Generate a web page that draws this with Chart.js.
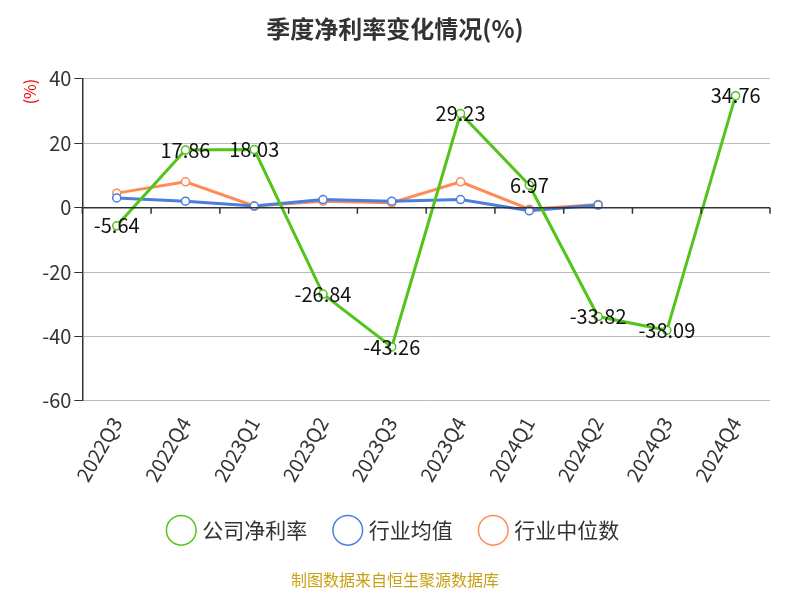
<!DOCTYPE html><html><head><meta charset="utf-8">
<script src="https://cdn.jsdelivr.net/npm/chart.js@4/dist/chart.umd.min.js"></script>
<style>body{margin:0;background:#fff}#w{width:800px;height:600px;position:relative}</style></head><body>
<div id="w"><canvas id="c" width="800" height="600"></canvas></div>
<script>
const categories=['2022Q3','2022Q4','2023Q1','2023Q2','2023Q3','2023Q4','2024Q1','2024Q2','2024Q3','2024Q4'];
const company=[-5.64,17.86,18.03,-26.84,-43.26,29.23,6.97,-33.82,-38.09,34.76];
const industryAvg=[3,2,0.5,2.5,2,2.5,-1,0.8,null,null];
const industryMed=[4.5,8,0.5,2,1.5,8,-0.5,1,null,null];
const yTicks=[40,20,0,-20,-40,-60];
const F='"Noto Sans CJK SC","Noto Sans",sans-serif';
const extra={id:'extra',afterDatasetsDraw(ch){
 const c=ch.ctx,x=ch.scales.x,y=ch.scales.y,a=ch.chartArea,y0=y.getPixelForValue(0);
 c.save();c.strokeStyle='#333';c.lineWidth=1.5;c.beginPath();c.moveTo(a.left,y0);c.lineTo(a.right,y0);
 const w=(a.right-a.left)/categories.length;
 for(let i=0;i<=categories.length;i++){const px=a.left+i*w;c.moveTo(px,y0);c.lineTo(px,y0+6);}
 c.stroke();
 const m=ch.getDatasetMeta(0);c.fillStyle='#111';c.font='20px '+F;c.textAlign='center';c.textBaseline='middle';
 m.data.forEach((p,i)=>c.fillText(company[i].toFixed(2),p.x,p.y));
 c.restore();}};
const pt=(col)=>({borderColor:col,backgroundColor:'#fff',pointBorderColor:col,pointBackgroundColor:'#fff',pointRadius:4,pointBorderWidth:1.5,borderWidth:3,tension:0,spanGaps:false});
new Chart(document.getElementById('c'),{type:'line',
data:{labels:categories,datasets:[
 {label:'公司净利率',data:company,...pt('#52c41a')},
 {label:'行业均值',data:industryAvg,...pt('#4a7fe0')},
 {label:'行业中位数',data:industryMed,...pt('#ff8c55')}]},
options:{responsive:false,animation:false,
 layout:{padding:{left:20,right:30,top:10,bottom:10}},
 plugins:{title:{display:true,text:'季度净利率变化情况(%)',font:{size:24,weight:'bold',family:F},color:'#333',padding:{top:4,bottom:36}},
  legend:{position:'bottom',labels:{usePointStyle:true,pointStyle:'circle',font:{size:21,family:F},color:'#333',padding:30,boxWidth:40},
   onClick:null},
  subtitle:{display:true,position:'bottom',text:'制图数据来自恒生聚源数据库',color:'#c8a014',font:{size:16,family:F},padding:{top:20}},
  tooltip:{enabled:false}},
 scales:{
  x:{offset:true,grid:{display:false},border:{display:false},ticks:{font:{size:20,family:F},color:'#333',maxRotation:60,minRotation:60,padding:4}},
  y:{min:-60,max:40,afterBuildTicks:s=>{s.ticks=yTicks.map(v=>({value:v}));},
   border:{display:true,color:'#333',width:1.5},
   grid:{color:'#bbb',drawTicks:true,tickLength:8,tickColor:'#333'},
   ticks:{font:{size:20,family:F},color:'#333'},
   title:{display:true,text:'(%)',color:'#e00',font:{size:16,family:F},align:'end',padding:0}}}},
plugins:[extra,{id:'dash',beforeDraw(ch){ch.scales.y.options.grid.borderDash=[6,6];}}]});
</script></body></html>
